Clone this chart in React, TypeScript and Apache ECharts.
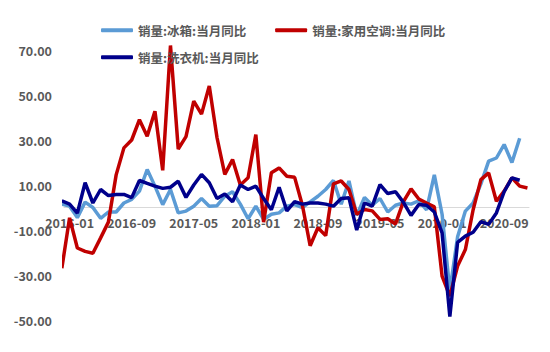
import React, { useEffect, useRef } from "react";
import * as echarts from "echarts";

const months: string[] = [
  "2015-12",
  "2016-01", "2016-02", "2016-03", "2016-04", "2016-05", "2016-06", "2016-07", "2016-08", "2016-09", "2016-10", "2016-11", "2016-12",
  "2017-01", "2017-02", "2017-03", "2017-04", "2017-05", "2017-06", "2017-07", "2017-08", "2017-09", "2017-10", "2017-11", "2017-12",
  "2018-01", "2018-02", "2018-03", "2018-04", "2018-05", "2018-06", "2018-07", "2018-08", "2018-09", "2018-10", "2018-11", "2018-12",
  "2019-01", "2019-02", "2019-03", "2019-04", "2019-05", "2019-06", "2019-07", "2019-08", "2019-09", "2019-10", "2019-11", "2019-12",
  "2020-01", "2020-02", "2020-03", "2020-04", "2020-05", "2020-06", "2020-07", "2020-08", "2020-09", "2020-10", "2020-11", "2020-12",
];

const xTickLabels: string[] = ["2016-01", "2016-09", "2017-05", "2018-01", "2018-09", "2019-05", "2020-01", "2020-09"];
const yMin = -50;
const yMax = 90;
const yInterval = 20;

const fridge: (number | null)[] = [
  1.5, 0.6, -4.5, 2.4, 0, -4.8, -2, -2, 2, 3.6, 7.3, 16.9, 9.5, 1.3, 8, -2.4, -1.6, 0.6, 4, 0.6, 0.8, 5, 7, 1.5, -5,
  0.6, -5.3, -3, -2.4, 0.6, 1.3, 0, 2.5, 5, 8, 12, 1.5, 11.8, -3.5, 4.5, 1, 4, -2, 1, 2, 1.5, 3, -1, 14.5, -3,
  -37, -13, -1.6, 2, 10.5, 20.6, 22, 28, 20, 30.8, null,
];

const airCon: (number | null)[] = [
  -27, -4.6, -18, -19.5, -20.3, -13.5, -6.5, 14.5, 26.5, 30, 39, 31.7, 42.8, 16.5, 72, 26, 31.5, 47.3, 41.5, 54, 31,
  14.7, 21.3, 10, 13.2, 32.4, -6.5, 15.4, 17.6, 13.9, 13.4, 1, -17, -9, -12.5, 10.5, 11.8, 8, -3, -0.9, -1.5, -5.3,
  -5, -7.3, 2.5, 8.3, 3.8, 2, 0.3, -30.5, -39.4, -26, -18.7, -1, 12.4, 15.4, 2.8, 7.3, 13.2, 9.5, 8.7,
];

const washer: (number | null)[] = [
  3, 1.5, -2.5, 11, 2, 8, 5.3, 5.8, 5.8, 4.4, 12, 10.7, 9.5, 8.5, 9, 11.7, 4.5, 10, 14.7, 11, 4, 6, 2.6, 10, 8, 9.5,
  4, -1, 9, -1.5, 2.6, 1.5, 2, 2, 1.5, 0.6, 4, 4.3, -10, 2, 0.6, 10.2, 6.2, 7, 2.4, -3.5, 1.3, 1, -2, -11.3, -48.5,
  -15.5, -12.7, -11, -6.3, -7.5, -2.4, 7, 13.2, 12.1, null,
];

const seriesNames = ["销量:冰箱:当月同比", "销量:家用空调:当月同比", "销量:洗衣机:当月同比"];
const seriesColors = ["#5B9BD5", "#C00000", "#00008B"];

const FONT = "'Noto Sans CJK SC', 'Noto Sans', sans-serif";

const GRID_TOP = 5;
const GRID_BOTTOM = 32;
const CHART_H = 352;

export default function App() {
  const ref = useRef<HTMLDivElement>(null);

  useEffect(() => {
    if (!ref.current) return;
    const chart = echarts.init(ref.current, undefined, { renderer: "svg" });
    const toPairs = (arr: (number | null)[]) => arr.map((v, k) => [k, v]);
    const allData = [fridge, airCon, washer];

    const gridH = CHART_H - GRID_TOP - GRID_BOTTOM;
    const zeroOffset = ((0 - yMin) / (yMax - yMin)) * gridH;

    const legendText = { color: "#595959", fontSize: 12.5, fontWeight: "bold" as const, fontFamily: FONT };
    const legendCommon = {
      left: 96,
      icon: "roundRect",
      itemWidth: 32,
      itemHeight: 4,
      textStyle: legendText,
    };

    chart.setOption({
      animation: false,
      backgroundColor: "#ffffff",
      grid: { left: 64, right: 21, top: GRID_TOP, bottom: GRID_BOTTOM, containLabel: false },
      legend: [
        { ...legendCommon, data: [seriesNames[0], seriesNames[1]], top: 19, itemGap: 29 },
        { ...legendCommon, data: [seriesNames[2]], top: 46 },
      ],
      xAxis: {
        type: "value",
        min: 0.28,
        max: 60.2,
        position: "bottom",
        offset: -zeroOffset,
        axisLine: { onZero: false, lineStyle: { color: "#D9D9D9", width: 1 } },
        axisTick: { show: false },
        splitLine: { show: false },
        axisLabel: {
          customValues: xTickLabels.map((t) => months.indexOf(t)),
          formatter: (v: number) => months[Math.round(v)] ?? "",
          color: "#595959",
          fontSize: 12.5,
          fontWeight: "bold",
          fontFamily: FONT,
          margin: 9,
        },
      },
      yAxis: {
        type: "value",
        min: yMin,
        max: yMax,
        interval: yInterval,
        axisLine: { show: false, onZero: false },
        axisTick: { show: false },
        splitLine: { show: false },
        axisLabel: {
          showMaxLabel: false,
          formatter: (v: number) => (v > 70 ? "" : v.toFixed(2)),
          color: "#595959",
          fontSize: 12.5,
          fontWeight: "bold",
          fontFamily: FONT,
          margin: 12,
        },
      },
      series: allData.map((arr, i) => ({
        name: seriesNames[i],
        type: "line",
        data: toPairs(arr),
        symbol: "none",
        clip: true,
        connectNulls: false,
        color: seriesColors[i],
        itemStyle: { color: seriesColors[i] },
        lineStyle: { width: 3.5, color: seriesColors[i] },
      })),
    });
    return () => chart.dispose();
  }, []);

  return (
    <div
      ref={ref}
      style={{ position: "fixed", left: 0, top: 0, width: 550, height: 352, background: "#fff" }}
    />
  );
}
